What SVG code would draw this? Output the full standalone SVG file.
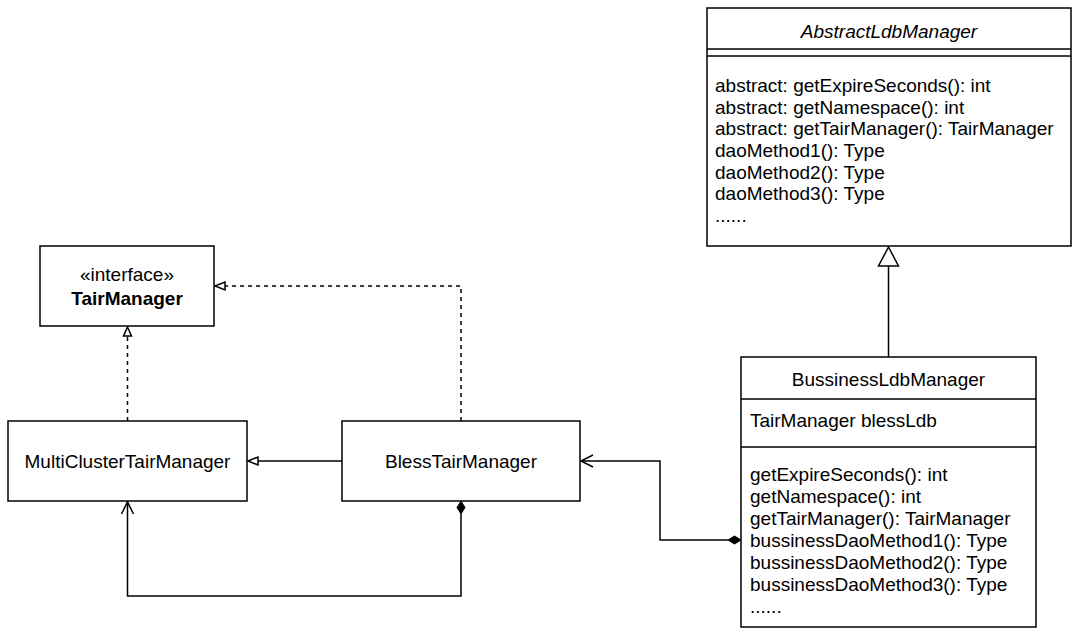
<svg xmlns="http://www.w3.org/2000/svg" width="1080" height="641" viewBox="0 0 1080 641">
<style>
.box{fill:#fff;stroke:#000;stroke-width:1.5}
.ln{fill:none;stroke:#000;stroke-width:1.5}
.dash{fill:none;stroke:#000;stroke-width:1.5;stroke-dasharray:4 4}
text{font-family:"Liberation Sans",Arial,Helvetica,sans-serif;font-size:19px;fill:#000}
.c{text-anchor:middle}
.hollow{fill:#fff;stroke:#000;stroke-width:1.5}
.fill{fill:#000;stroke:#000;stroke-width:1}
</style>
<rect width="1080" height="641" fill="#fff"/>
<g id="connectors">
  <line class="ln" x1="888.5" y1="266" x2="888.5" y2="357"/>
  <polygon class="hollow" points="888.5,247 878.5,266 898.5,266"/>
  <line class="dash" x1="127.5" y1="421" x2="127.5" y2="336"/>
  <polygon class="hollow" points="127.5,327 123.5,336 131.5,336"/>
  <polyline class="dash" points="461,421 461,286 225,286"/>
  <polygon class="hollow" points="215,286 225,282 225,290"/>
  <line class="ln" x1="342" y1="461" x2="258" y2="461"/>
  <polygon class="hollow" points="248,461 258,457 258,465"/>
  <polyline class="ln" points="461,514 461,596 127.5,596 127.5,502"/>
  <polygon class="fill" points="461,501 465,507.5 461,514 457,507.5"/>
  <polyline class="ln" points="121.5,514 127.5,502 133.5,514"/>
  <polyline class="ln" points="728,540 660,540 660,461 581,461"/>
  <polygon class="fill" points="741,540 734.5,544 728,540 734.5,536"/>
  <polyline class="ln" points="593,455 581,461 593,467"/>
</g>
<g id="AbstractLdbManager">
  <rect class="box" x="707" y="8" width="364" height="238"/>
  <line class="ln" x1="707" y1="49" x2="1071" y2="49"/>
  <line class="ln" x1="707" y1="56" x2="1071" y2="56"/>
  <text class="c" x="889" y="38" font-style="italic">AbstractLdbManager</text>
  <text x="715" y="92">abstract: getExpireSeconds(): int</text>
  <text x="715" y="114">abstract: getNamespace(): int</text>
  <text x="715" y="135">abstract: getTairManager(): TairManager</text>
  <text x="715" y="157">daoMethod1(): Type</text>
  <text x="715" y="179">daoMethod2(): Type</text>
  <text x="715" y="200">daoMethod3(): Type</text>
  <text x="715" y="222">......</text>
</g>
<g id="BussinessLdbManager">
  <rect class="box" x="741" y="357" width="295" height="270"/>
  <line class="ln" x1="741" y1="399" x2="1036" y2="399"/>
  <line class="ln" x1="741" y1="447" x2="1036" y2="447"/>
  <text class="c" x="888.5" y="386">BussinessLdbManager</text>
  <text x="750" y="427">TairManager blessLdb</text>
  <text x="750" y="481">getExpireSeconds(): int</text>
  <text x="750" y="503">getNamespace(): int</text>
  <text x="750" y="525">getTairManager(): TairManager</text>
  <text x="750" y="547">bussinessDaoMethod1(): Type</text>
  <text x="750" y="569">bussinessDaoMethod2(): Type</text>
  <text x="750" y="591">bussinessDaoMethod3(): Type</text>
  <text x="750" y="613">......</text>
</g>
<g id="TairManager">
  <rect class="box" x="40" y="246" width="174" height="80"/>
  <text class="c" x="127" y="281">«interface»</text>
  <text class="c" x="127" y="305" font-weight="bold">TairManager</text>
</g>
<g id="MultiClusterTairManager">
  <rect class="box" x="8" y="421" width="239" height="80"/>
  <text class="c" x="127.5" y="468">MultiClusterTairManager</text>
</g>
<g id="BlessTairManager">
  <rect class="box" x="342" y="421" width="238" height="80"/>
  <text class="c" x="461" y="468">BlessTairManager</text>
</g>
</svg>
